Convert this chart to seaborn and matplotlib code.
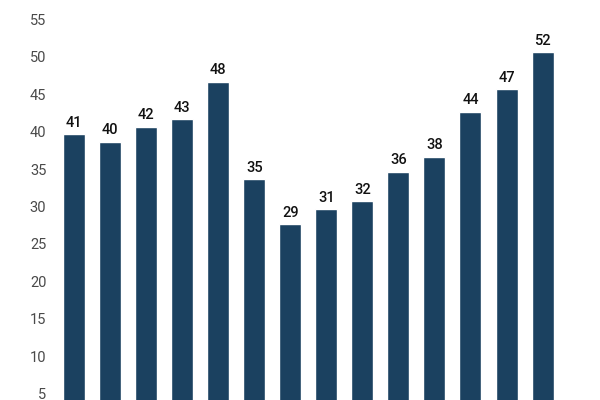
import matplotlib
matplotlib.use("Agg")
import matplotlib.pyplot as plt
import matplotlib.transforms as mtransforms
import seaborn as sns

categories = [str(i) for i in range(1, 15)]
values = [41, 40, 42, 43, 48, 35, 29, 31, 32, 36, 38, 44, 47, 52]
yticks = [5, 10, 15, 20, 25, 30, 35, 40, 45, 50, 55]

sns.set_style("white")
plt.rcParams["font.family"] = ["Roboto", "DejaVu Sans"]

fig = plt.figure(figsize=(6, 4), dpi=100)
ax = fig.add_axes([0.0933, -0.0187, 0.841, 1.0187])

sns.barplot(x=categories, y=values, color="#1b4160", saturation=1, width=0.61, ax=ax)
ax.bar_label(ax.containers[0], padding=3, fontsize=10.5, fontweight="medium", color="#111111")

ax.set_ylim(4.5, 58.9)
ax.set_yticks(yticks)
ax.tick_params(axis="y", length=0, pad=7, labelsize=10.5, labelcolor="#4a4a4a")
ax.set_xticks([])
ax.set_xlabel("")
ax.set_ylabel("")
sns.despine(ax=ax, left=True, bottom=True)

# tick labels sit a little above their value
shift = mtransforms.ScaledTranslation(0, 10 / 100, fig.dpi_scale_trans)
for lab in ax.get_yticklabels():
    lab.set_transform(lab.get_transform() + shift)

fig.savefig("out.png", dpi=100)
